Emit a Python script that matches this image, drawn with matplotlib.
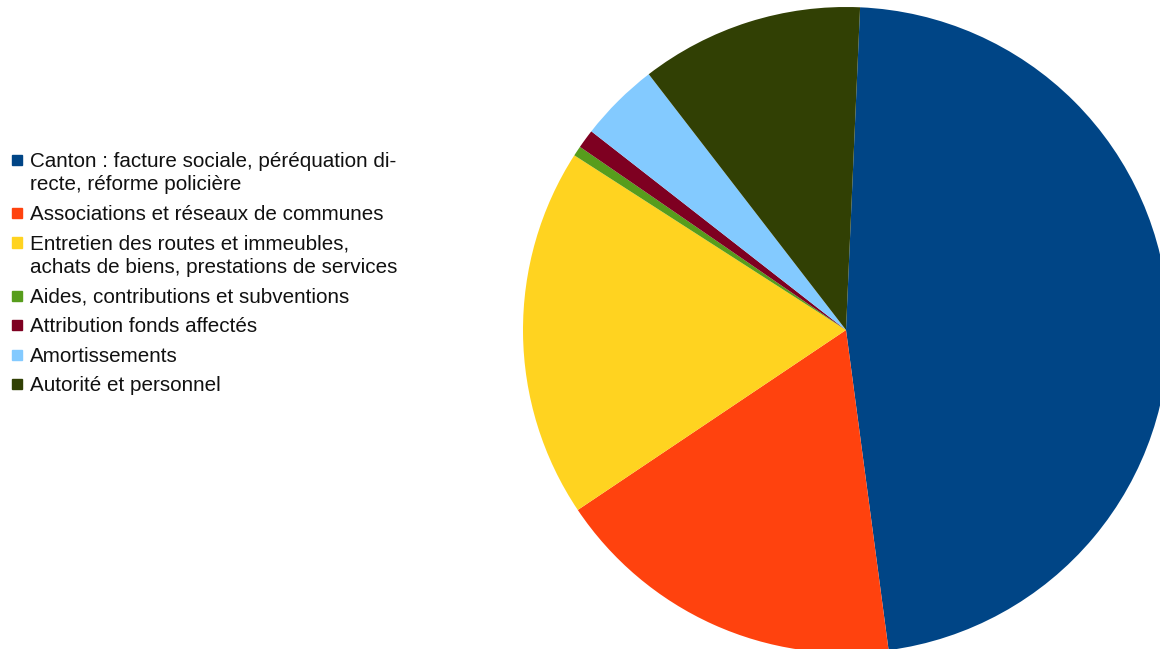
import matplotlib.pyplot as plt
from matplotlib.patches import Rectangle

# data (share of expenses, %)
labels = [
    "Canton : facture sociale, péréquation di-\nrecte, réforme policière",
    "Associations et réseaux de communes",
    "Entretien des routes et immeubles,\nachats de biens, prestations de services",
    "Aides, contributions et subventions",
    "Attribution fonds affectés",
    "Amortissements",
    "Autorité et personnel",
]
values = [47.2, 17.7, 18.5, 0.5, 0.95, 4.0, 11.15]
colors = ["#004586", "#ff420e", "#ffd320", "#579d1c", "#7e0021", "#83caff", "#314004"]

W, H = 1160, 649
fig = plt.figure(figsize=(W / 100, H / 100), dpi=100)

# pie: centre (846, 330) px, radius 323 px
cx, cy, r = 846, 330, 323
ax = fig.add_axes([(cx - r) / W, (H - cy - r) / H, 2 * r / W, 2 * r / H])
ax.pie(values, colors=colors, startangle=87.5, counterclock=False,
       wedgeprops=dict(linewidth=0))
ax.set_xlim(-1, 1)
ax.set_ylim(-1, 1)
ax.set_aspect("equal")
ax.axis("off")

# legend drawn by hand (square aligned with first text line)
y = 160
for lab, col in zip(labels, colors):
    fig.patches.append(Rectangle((12 / W, 1 - (y + 5) / H), 10 / W, 10 / H,
                                 transform=fig.transFigure, color=col, zorder=3))
    fig.text(30 / W, 1 - (y - 8) / H, lab, fontsize=14.9, family="Liberation Sans",
             va="top", ha="left", color="#111111", linespacing=1.28)
    y += 29.5 + lab.count("\n") * 23.5

fig.savefig("out.png", dpi=100)
